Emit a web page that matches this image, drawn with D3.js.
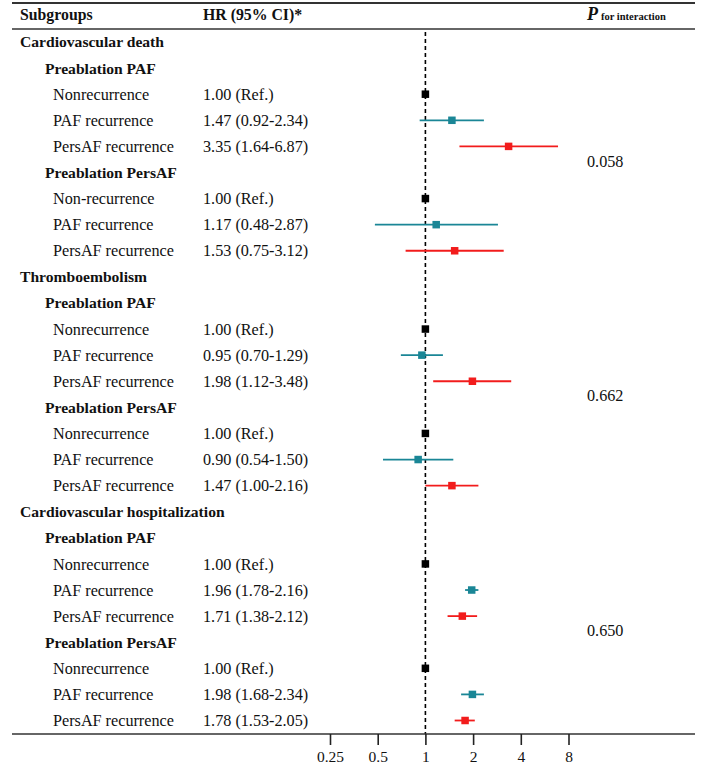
<!DOCTYPE html>
<html>
<head>
<meta charset="utf-8">
<script src="https://cdn.jsdelivr.net/npm/d3@7"></script>
<style>
  body { margin: 0; background: #fff; }
  text { font-family: "Liberation Serif", "Times New Roman", serif; fill: #111; }
</style>
</head>
<body>
<svg width="709" height="768"></svg>
<script>
// Rows of the table, top to bottom: label, indent level, bold
const rowLabels = [
  "Cardiovascular death", "Preablation PAF", "Nonrecurrence", "PAF recurrence", "PersAF recurrence",
  "Preablation PersAF", "Non-recurrence", "PAF recurrence", "PersAF recurrence",
  "Thromboembolism", "Preablation PAF", "Nonrecurrence", "PAF recurrence", "PersAF recurrence",
  "Preablation PersAF", "Nonrecurrence", "PAF recurrence", "PersAF recurrence",
  "Cardiovascular hospitalization", "Preablation PAF", "Nonrecurrence", "PAF recurrence", "PersAF recurrence",
  "Preablation PersAF", "Nonrecurrence", "PAF recurrence", "PersAF recurrence"
];
const rowLevels = [0,1,2,2,2,1,2,2,2, 0,1,2,2,2,1,2,2,2, 0,1,2,2,2,1,2,2,2];

// estimates per data row (null = heading row)
const hrText = [
  "", "", "1.00 (Ref.)", "1.47 (0.92-2.34)", "3.35 (1.64-6.87)",
  "", "1.00 (Ref.)", "1.17 (0.48-2.87)", "1.53 (0.75-3.12)",
  "", "", "1.00 (Ref.)", "0.95 (0.70-1.29)", "1.98 (1.12-3.48)",
  "", "1.00 (Ref.)", "0.90 (0.54-1.50)", "1.47 (1.00-2.16)",
  "", "", "1.00 (Ref.)", "1.96 (1.78-2.16)", "1.71 (1.38-2.12)",
  "", "1.00 (Ref.)", "1.98 (1.68-2.34)", "1.78 (1.53-2.05)"
];
const hr    = [null,null,1,1.47,3.35, null,1,1.17,1.53, null,null,1,0.95,1.98, null,1,0.90,1.47, null,null,1,1.96,1.71, null,1,1.98,1.78];
const lower = [null,null,1,0.92,1.64, null,1,0.48,0.75, null,null,1,0.70,1.12, null,1,0.54,1.00, null,null,1,1.78,1.38, null,1,1.68,1.53];
const upper = [null,null,1,2.34,6.87, null,1,2.87,3.12, null,null,1,1.29,3.48, null,1,1.50,2.16, null,null,1,2.16,2.12, null,1,2.34,2.05];
const kind  = ["","","ref","paf","pers", "","ref","paf","pers", "","","ref","paf","pers", "","ref","paf","pers", "","","ref","paf","pers", "","ref","paf","pers"];

// P for interaction, spanning rows first..last
const pValues = ["0.058", "0.662", "0.650"];
const pSpans = [[1, 8], [10, 17], [19, 26]];

const tickValues = [0.25, 0.5, 1, 2, 4, 8];
const tickLabels = ["0.25", "0.5", "1", "2", "4", "8"];

const svg = d3.select("svg");
const colors = { ref: "#000000", paf: "#1a8696", pers: "#f21c1c" };
const indent = [20, 45, 53];

const x = d3.scaleLog().base(2).domain([0.25, 8]).range([330, 568.5]);
const y = d3.scalePoint().domain(d3.range(rowLabels.length)).range([42, 720.5]);

// table rules
const rule = (y0, w) => svg.append("line")
  .attr("x1", 12).attr("x2", 695).attr("y1", y0).attr("y2", y0)
  .attr("stroke", "#333").attr("stroke-width", w);
rule(3, 2);
rule(29, 1.6);

// header
svg.append("text").attr("x", 20).attr("y", 14).attr("dy", "0.35em")
  .attr("font-size", 15.8).attr("font-weight", "bold").text("Subgroups");
svg.append("text").attr("x", 203).attr("y", 14).attr("dy", "0.35em")
  .attr("font-size", 15.8).attr("font-weight", "bold").text("HR (95% CI)*");
const ph = svg.append("text").attr("x", 587).attr("y", 14).attr("dy", "0.35em").attr("font-weight", "bold");
ph.append("tspan").attr("font-size", 18).attr("font-style", "italic").text("P");
ph.append("tspan").attr("font-size", 10.5).attr("dx", 3).text("for interaction");

// labels
svg.selectAll("text.lab").data(rowLabels).join("text")
  .attr("class", "lab")
  .attr("x", (d, i) => indent[rowLevels[i]])
  .attr("y", (d, i) => y(i)).attr("dy", "0.35em")
  .attr("font-size", (d, i) => rowLevels[i] < 2 ? 15.6 : 16.2)
  .attr("font-weight", (d, i) => rowLevels[i] < 2 ? "bold" : "normal")
  .text(d => d);

svg.selectAll("text.hr").data(hrText).join("text")
  .attr("class", "hr")
  .attr("x", 203).attr("y", (d, i) => y(i)).attr("dy", "0.35em")
  .attr("font-size", 16.2).text(d => d);

// reference line
svg.append("line")
  .attr("x1", x(1)).attr("x2", x(1)).attr("y1", 32).attr("y2", 734)
  .attr("stroke", "#000").attr("stroke-width", 1.6).attr("stroke-dasharray", "4,3");

// CIs and points
const pts = d3.range(hr.length).filter(i => hr[i] !== null);
svg.selectAll("line.ci").data(pts.filter(i => kind[i] !== "ref")).join("line")
  .attr("class", "ci")
  .attr("x1", i => x(lower[i])).attr("x2", i => x(upper[i]))
  .attr("y1", i => y(i)).attr("y2", i => y(i))
  .attr("stroke", i => colors[kind[i]]).attr("stroke-width", 1.8);
svg.selectAll("rect.pt").data(pts).join("rect")
  .attr("class", "pt")
  .attr("x", i => x(hr[i]) - 3.75).attr("y", i => y(i) - 3.75)
  .attr("width", 7.5).attr("height", 7.5)
  .attr("fill", i => colors[kind[i]]);

// P values
svg.selectAll("text.p").data(pValues).join("text")
  .attr("class", "p")
  .attr("x", 587)
  .attr("y", (d, i) => (y(pSpans[i][0]) + y(pSpans[i][1])) / 2 + 1.5).attr("dy", "0.35em")
  .attr("font-size", 16.2).text(d => d);

// axis
rule(734, 1.6);
const axis = svg.append("g")
  .attr("transform", "translate(0,734)")
  .call(d3.axisBottom(x).tickValues(tickValues).tickFormat((d, i) => tickLabels[i]).tickSize(11).tickPadding(6));
axis.select(".domain").remove();
axis.selectAll(".tick line").attr("stroke", "#222").attr("stroke-width", 1.6);
axis.selectAll(".tick text")
  .attr("font-family", "Liberation Serif, Times New Roman, serif")
  .attr("font-size", 15.5).attr("fill", "#111");
</script>
</body>
</html>
